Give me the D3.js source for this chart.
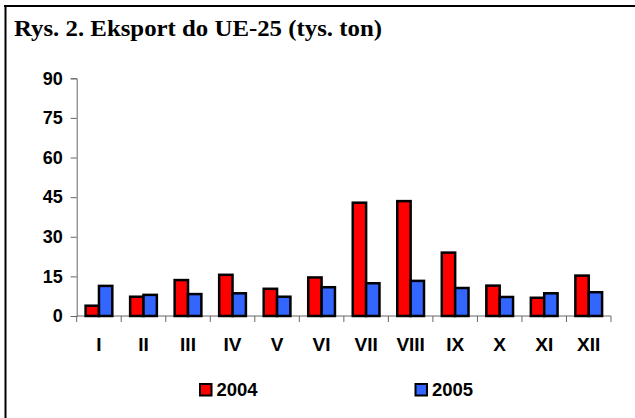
<!DOCTYPE html>
<html>
<head>
<meta charset="utf-8">
<script src="https://cdn.jsdelivr.net/npm/d3@7"></script>
<style>
  body { margin: 0; background: #fff; }
  svg { display: block; }
</style>
</head>
<body>
<div id="chart"></div>
<script>
// data (tys. ton)
var months = ["I", "II", "III", "IV", "V", "VI", "VII", "VIII", "IX", "X", "XI", "XII"];
var eksport2004 = [3.9, 7.3, 13.6, 15.6, 10.3, 14.6, 42.9, 43.5, 24.0, 11.5, 6.9, 15.3];
var eksport2005 = [11.4, 8.0, 8.3, 8.6, 7.3, 10.9, 12.4, 13.3, 10.6, 7.2, 8.6, 9.0];
var seriesNames = ["2004", "2005"];
var yTicks = [0, 15, 30, 45, 60, 75, 90];

var width = 635, height = 418;
var colors = ["#ff0000", "#3366ff"];

var svg = d3.select("#chart").append("svg")
  .attr("width", width)
  .attr("height", height);

// frame
svg.append("line").attr("x1", 4).attr("x2", width).attr("y1", 6).attr("y2", 6)
  .attr("stroke", "#000").attr("stroke-width", 2);
svg.append("line").attr("x1", 5.5).attr("x2", 5.5).attr("y1", 6).attr("y2", height)
  .attr("stroke", "#000").attr("stroke-width", 2);

svg.append("text")
  .attr("x", 14).attr("y", 36)
  .attr("font-family", "'Liberation Serif', 'Times New Roman', serif")
  .attr("font-weight", "bold")
  .attr("font-size", 22.5)
  .attr("textLength", 368)
  .attr("lengthAdjust", "spacingAndGlyphs")
  .text("Rys. 2. Eksport do UE-25 (tys. ton)");

var x0 = d3.scaleBand().domain(months).range([76.7, 611]).paddingInner(0).paddingOuter(0);
var x1 = d3.scaleBand().domain(seriesNames).range([8.9, x0.bandwidth() - 8.9]);
var y = d3.scaleLinear().domain([0, 90]).range([316, 78.3]);

var axisColor = "#666";
var labelFont = "'Liberation Sans', Arial, sans-serif";

// y axis
var gy = svg.append("g").attr("transform", "translate(76.7,0)")
  .call(d3.axisLeft(y).tickValues(yTicks).tickSize(6).tickPadding(8));
gy.select(".domain").attr("stroke", axisColor);
gy.selectAll(".tick line").attr("stroke", axisColor);
gy.selectAll(".tick text")
  .attr("font-family", labelFont).attr("font-weight", "bold")
  .attr("font-size", 18).attr("fill", "#000");

// x axis: ticks at the category boundaries
var gx = svg.append("g").attr("transform", "translate(0,316)");
gx.append("line").attr("x1", x0.range()[0]).attr("x2", x0.range()[1])
  .attr("stroke", axisColor);
var bounds = months.map(function(m) { return x0(m); }).concat([x0.range()[1]]);
gx.selectAll("line.tk").data(bounds).join("line")
  .attr("class", "tk")
  .attr("x1", function(d) { return d; }).attr("x2", function(d) { return d; })
  .attr("y1", 0).attr("y2", 6)
  .attr("stroke", axisColor);
gx.selectAll("text").data(months).join("text")
  .attr("x", function(d) { return x0(d) + x0.bandwidth() / 2; })
  .attr("y", 35)
  .attr("text-anchor", "middle")
  .attr("font-family", labelFont).attr("font-weight", "bold")
  .attr("font-size", 19)
  .text(function(d) { return d; });

// bars
var rows = months.map(function(m, i) {
  return { month: m, values: [eksport2004[i], eksport2005[i]] };
});
svg.append("g")
  .selectAll("g")
  .data(rows)
  .join("g")
    .attr("transform", function(d) { return "translate(" + x0(d.month) + ",0)"; })
  .selectAll("rect")
  .data(function(d) { return d.values.map(function(v, k) { return { key: seriesNames[k], value: v, k: k }; }); })
  .join("rect")
    .attr("x", function(d) { return x1(d.key); })
    .attr("y", function(d) { return y(d.value); })
    .attr("width", x1.bandwidth())
    .attr("height", function(d) { return y(0) - y(d.value); })
    .attr("fill", function(d) { return colors[d.k]; })
    .attr("stroke", "#000")
    .attr("stroke-width", 2.5);

// legend
var legendX = [199, 414.5];
var lg = svg.append("g").selectAll("g").data(seriesNames).join("g")
  .attr("transform", function(d, i) { return "translate(" + legendX[i] + ",383)"; });
lg.append("rect").attr("x", 1).attr("y", 1).attr("width", 11.5).attr("height", 11.5)
  .attr("fill", function(d, i) { return colors[i]; })
  .attr("stroke", "#000").attr("stroke-width", 2);
lg.append("text").attr("x", 17.5).attr("y", 13)
  .attr("font-family", labelFont).attr("font-weight", "bold")
  .attr("font-size", 18.5)
  .text(function(d) { return d; });
</script>
</body>
</html>
